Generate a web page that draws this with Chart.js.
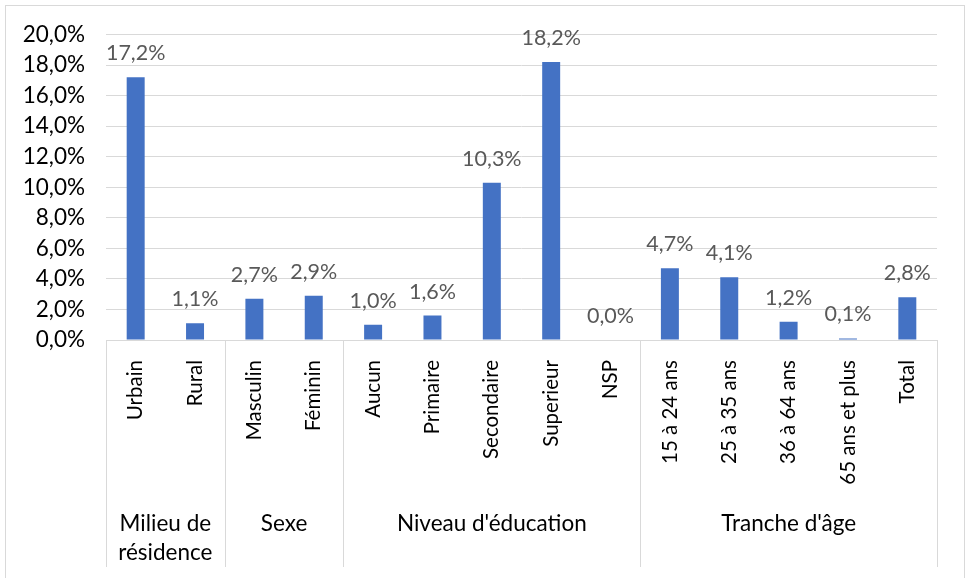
<!DOCTYPE html>
<html>
<head>
<meta charset="utf-8">
<script src="https://cdn.jsdelivr.net/npm/chart.js@4.4.1/dist/chart.umd.min.js"></script>
<style>
html,body{margin:0;padding:0;background:#fff;}
#wrap{position:relative;width:968px;height:578px;}
</style>
</head>
<body>
<div id="wrap"><canvas id="c" width="968" height="578"></canvas></div>
<script>
const categories = ["Urbain","Rural","Masculin","Féminin","Aucun","Primaire","Secondaire","Superieur","NSP","15 à 24 ans","25 à 35 ans","36 à 64 ans","65 ans et plus","Total"];
const values = [17.2,1.1,2.7,2.9,1.0,1.6,10.3,18.2,0.0,4.7,4.1,1.2,0.1,2.8];
const groupNames = [["Milieu de","résidence"],["Sexe"],["Niveau d'éducation"],["Tranche d'âge"]];
const groupSizes = [2,2,5,5];
const yTicks = [0,2,4,6,8,10,12,14,16,18,20];

const FONT = "Lato, 'Open Sans', sans-serif";
const fmt = v => v.toFixed(1).replace('.', ',') + '%';

const extras = {
  id: 'extras',
  afterDraw(chart) {
    const ctx = chart.ctx;
    const x = chart.scales.x, y = chart.scales.y;
    const area = chart.chartArea;
    const step = x.getPixelForValue(1) - x.getPixelForValue(0);
    ctx.save();
    // outer border
    ctx.strokeStyle = '#d9d9d9';
    ctx.lineWidth = 1;
    ctx.strokeRect(5.5, 5.5, 959, 600);
    // axis line
    ctx.beginPath();
    ctx.moveTo(area.left, y.getPixelForValue(0) + 0.5);
    ctx.lineTo(area.right, y.getPixelForValue(0) + 0.5);
    ctx.stroke();
    // separators and group labels
    const bottom = 567;
    let idx = 0;
    const bounds = [x.getPixelForValue(0) - step / 2];
    groupSizes.forEach(s => { idx += s; bounds.push(x.getPixelForValue(idx - 1) + step / 2); });
    bounds.forEach(b => {
      ctx.beginPath();
      ctx.moveTo(Math.round(b) + 0.5, y.getPixelForValue(0));
      ctx.lineTo(Math.round(b) + 0.5, bottom);
      ctx.stroke();
    });
    ctx.fillStyle = '#000';
    ctx.font = '22.5px ' + FONT;
    ctx.textAlign = 'center';
    ctx.textBaseline = 'alphabetic';
    groupNames.forEach((lines, g) => {
      const cx = (bounds[g] + bounds[g + 1]) / 2;
      lines.forEach((ln, k) => ctx.fillText(ln, cx, 531 + k * 29));
    });
    // data labels
    const meta = chart.getDatasetMeta(0);
    ctx.fillStyle = '#595959';
    ctx.font = '21.5px ' + FONT;
    meta.data.forEach((bar, i) => {
      ctx.fillText(fmt(values[i]), bar.x, bar.y - 17);
    });
    ctx.restore();
  }
};

new Chart(document.getElementById('c'), {
  type: 'bar',
  data: {
    labels: categories,
    datasets: [{
      data: values,
      backgroundColor: '#4472C4',
      barPercentage: 0.6,
      categoryPercentage: 0.505
    }]
  },
  options: {
    responsive: false,
    animation: false,
    devicePixelRatio: 1,
    layout: { padding: { top: 33, right: 31, left: 0, bottom: 0 } },
    plugins: { legend: { display: false }, tooltip: { enabled: false } },
    scales: {
      x: {
        grid: { display: false },
        border: { display: false },
        ticks: {
          color: '#000',
          font: { family: FONT, size: 20.5 },
          minRotation: 90, maxRotation: 90,
          autoSkip: false,
          padding: 12
        },
        afterFit(s) { s.height = 238; }
      },
      y: {
        min: 0, max: 20,
        afterBuildTicks(s) { s.ticks = yTicks.map(v => ({ value: v })); },
        grid: { color: '#d9d9d9', drawTicks: false },
        border: { display: false },
        ticks: {
          color: '#000',
          font: { family: FONT, size: 22.5 },
          padding: 21,
          callback: v => fmt(v)
        },
        afterFit(s) { s.width = 106; }
      }
    }
  },
  plugins: [extras]
});
</script>
</body>
</html>
